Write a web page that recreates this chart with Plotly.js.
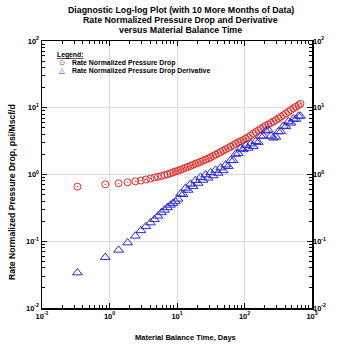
<!DOCTYPE html>
<html><head><meta charset="utf-8">
<script src="https://cdn.plot.ly/plotly-3.0.1.min.js"></script>
<style>html,body{margin:0;padding:0;background:#fff}#chart{width:352px;height:351px}</style>
</head><body><div id="chart"></div>
<script>
// Material balance time, days
var mbTime = [0.335,0.865,1.363,1.855,2.415,2.915,3.46,4.04,4.63,5.22,5.88,6.52,7.22,8.01,8.72,9.50,10.35,11.27,12.28,13.38,14.57,15.88,17.30,18.84,20.53,22.36,24.36,26.54,28.91,31.49,34.30,37.37,40.71,44.35,48.31,52.63,57.34,62.45,68.04,74.12,80.75,87.96,95.8,104.4,113.7,123.8,134.9,147.0,160.1,174.4,190.0,207.0,225.5,245.6,267.6,291.5,317.6,346.0,376.9,410.6,447.3,487.2,530.8,578.3,630.0,674.5];
// Rate normalized pressure drop, psi/Mscf/d
var pressureDrop = [0.656,0.713,0.738,0.764,0.791,0.813,0.841,0.871,0.902,0.927,0.950,0.983,1.007,1.042,1.079,1.109,1.140,1.176,1.217,1.260,1.304,1.350,1.398,1.447,1.497,1.550,1.609,1.672,1.736,1.810,1.893,1.980,2.078,2.174,2.280,2.393,2.495,2.618,2.757,2.893,3.026,3.165,3.288,3.450,3.621,3.853,4.100,4.333,4.579,4.838,5.112,5.365,5.631,5.909,6.223,6.554,6.925,7.318,7.734,8.202,8.696,9.253,9.846,10.37,10.92,11.46,11.87];
// Rate normalized pressure drop derivative
var derivative = [0.0338,0.0575,0.0739,0.0951,0.1199,0.1449,0.1663,0.1896,0.2132,0.2389,0.2696,0.2939,0.3203,0.3492,0.3703,0.3940,0.430,0.514,0.505,0.627,0.584,0.720,0.666,0.819,0.743,0.909,0.824,0.991,0.889,1.069,0.963,1.165,1.049,1.261,1.144,1.395,1.327,1.631,1.622,2.022,2.065,2.487,2.370,2.737,2.487,2.882,2.645,3.142,3.037,3.763,3.775,4.506,4.642,3.774,3.538,3.648,4.393,4.410,5.312,5.239,6.204,5.912,6.816,6.740,7.523,7.50];

var seriesNames = ['Rate Normalized Pressure Drop','Rate Normalized Pressure Drop Derivative'];
var titleLines = ['Diagnostic Log-log Plot (with 10 More Months of Data)','Rate Normalized Pressure Drop and Derivative','versus Material Balance Time'];
var xTickVals = [0.1, 1, 10, 100, 1000];
var xTickText = ['10<sup>-1</sup>','10<sup>0</sup>','10<sup>1</sup>','10<sup>2</sup>','10<sup>3</sup>'];
var yTickVals = [0.01, 0.1, 1, 10, 100];
var yTickText = ['10<sup>-2</sup>','10<sup>-1</sup>','10<sup>0</sup>','10<sup>1</sup>','10<sup>2</sup>'];

var RED = 'rgb(228,45,40)', BLUE = 'rgb(40,40,215)';
var FONT = 'Liberation Sans, Arial, sans-serif';

var traces = [
  {x: mbTime, y: pressureDrop, name: seriesNames[0], type: 'scatter', mode: 'markers',
   marker: {symbol: 'circle-open-dot', size: 7, color: RED, line: {color: RED, width: 1}}},
  {x: mbTime.slice(0, derivative.length), y: derivative, name: seriesNames[1], type: 'scatter', mode: 'markers',
   marker: {symbol: 'triangle-up-open', size: 8.5, color: BLUE, line: {color: BLUE, width: 1}}},
  // carrier for the right-hand y axis (not visible)
  {x: mbTime, y: pressureDrop, yaxis: 'y2', type: 'scatter', mode: 'markers', hoverinfo: 'skip',
   showlegend: false, marker: {opacity: 0, size: 1}}
];

var tickfont = {family: FONT, size: 7.5, color: '#000', weight: 'bold'};
function axisBase(rng, vals, text) {
  return {type: 'log', range: rng, tickmode: 'array', tickvals: vals, ticktext: text, showgrid: true,
    gridcolor: '#dcdcdc', gridwidth: 1, zeroline: false, showline: true, linecolor: '#000', linewidth: 1.5,
    ticks: 'inside', ticklen: 5, tickwidth: 1, tickcolor: '#000', mirror: 'ticks', tickfont: tickfont,
    minor: {ticks: 'inside', dtick: 'D1', ticklen: 3, tickwidth: 1, tickcolor: '#000', showgrid: false}};
}
var xa = axisBase([-1, 3], xTickVals, xTickText);
var ya = axisBase([-2, 2], yTickVals, yTickText);
var ya2 = {type: 'log', range: [-2, 2], tickmode: 'array', tickvals: yTickVals, ticktext: yTickText,
  overlaying: 'y', side: 'right', anchor: 'x', showgrid: false, zeroline: false, showline: false,
  ticks: '', tickfont: tickfont};

function pxX(px) { return (px - 42) / 270; }
function pxY(py) { return (308 - py) / 267; }

var ann = [];
var tys = [10, 20, 30];
titleLines.forEach(function (t, i) {
  ann.push({text: '<b>' + t + '</b>', xref: 'paper', yref: 'paper', x: pxX(180.5), y: pxY(tys[i]),
    xanchor: 'center', yanchor: 'middle', showarrow: false, borderpad: 0, font: {family: FONT, size: 8.8, color: '#000'}});
});
ann.push({text: '<b>Material Balance Time, Days</b>', xref: 'paper', yref: 'paper', x: pxX(185), y: pxY(337),
  xanchor: 'center', yanchor: 'middle', showarrow: false, font: {family: FONT, size: 7.5, color: '#000'}});
ann.push({text: '<b>Rate Normalized Pressure Drop, psi/Mscf/d</b>', xref: 'paper', yref: 'paper', x: pxX(12), y: pxY(192),
  xanchor: 'center', yanchor: 'middle', textangle: -90, showarrow: false, font: {family: FONT, size: 8.6, color: '#000'}});
// legend
ann.push({text: '<b><u>Legend:</u></b>', xref: 'paper', yref: 'paper', x: pxX(55.5), y: pxY(55),
  xanchor: 'left', yanchor: 'middle', showarrow: false, borderpad: 0, font: {family: FONT, size: 6.8, color: '#000'}});
var legY = [63, 70.5];
var legSym = ['⊙', '△'];
var legCol = [RED, BLUE];
seriesNames.forEach(function (n, i) {
  ann.push({text: legSym[i], xref: 'paper', yref: 'paper', x: pxX(62), y: pxY(legY[i]),
    xanchor: 'center', yanchor: 'middle', showarrow: false, borderpad: 0, font: {family: 'DejaVu Sans', size: 7.5, color: legCol[i]}});
  ann.push({text: '<b>' + n + '</b>', xref: 'paper', yref: 'paper', x: pxX(71), y: pxY(legY[i]),
    xanchor: 'left', yanchor: 'middle', showarrow: false, borderpad: 0, font: {family: FONT, size: 6.9, color: '#000'}});
});

var layout = {
  width: 352, height: 351, margin: {l: 42, r: 40, t: 41, b: 43},
  paper_bgcolor: '#fff', plot_bgcolor: '#fff', showlegend: false,
  xaxis: xa, yaxis: ya, yaxis2: ya2, annotations: ann
};
Plotly.newPlot('chart', traces, layout, {displayModeBar: false, staticPlot: true});
</script></body></html>
